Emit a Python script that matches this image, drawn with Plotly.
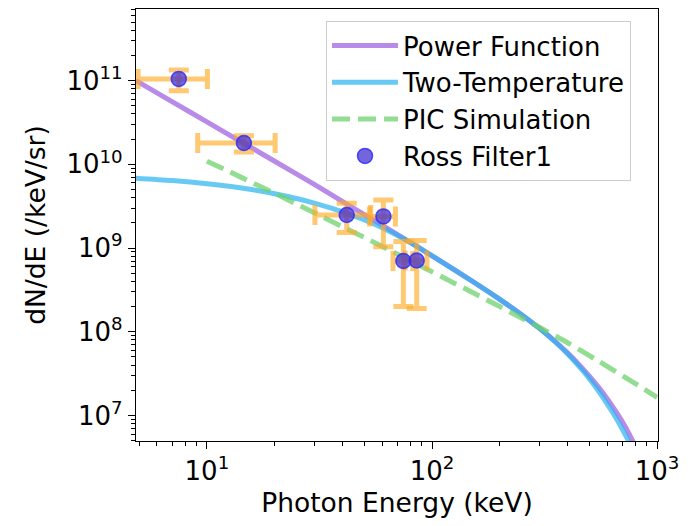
import plotly.graph_objects as go

# ---------------- data ----------------
# Ross filter measurements
ross_E = [7.5, 14.6, 41.8, 60.8, 74.6, 85.5]
ross_dNdE = [1.05e11, 1.8e10, 2.48e9, 2.39e9, 7.0e8, 7.1e8]
ross_E_err = [2.55, 5.5, 11.6, 8.0, 7.5, 9.5]
ross_dNdE_err = [2.9e10, 4.0e9, 9.5e8, 1.35e9, 5.0e8, 5.2e8]

# Power function fit
pow_E = [4.84, 7, 10, 14.5, 20, 30, 42, 60, 80, 110, 150, 200, 250, 300, 350, 400,
         450, 500, 550, 600, 650, 700, 750, 800, 850]
pow_dNdE = [1.0e11, 5.62e10, 3.22e10, 1.8e10, 1.09e10, 5.75e9, 3.33e9, 1.88e9, 1.17e9,
            6.9e8, 4.07e8, 2.44e8, 1.6e8, 1.1e8, 7.8e7, 5.6e7, 4.05e7, 2.95e7, 2.17e7,
            1.59e7, 1.16e7, 8.45e6, 6.07e6, 4.28e6, 2.98e6]

# Two-temperature fit
two_E = [4.8, 7, 10, 15, 20, 30, 42, 55, 70, 80, 110, 150, 200, 250, 300, 350, 400,
         450, 500, 550, 600, 650, 700, 750, 800]
two_dNdE = [6.85e9, 6.4e9, 5.85e9, 5.1e9, 4.45e9, 3.45e9, 2.6e9, 1.95e9, 1.42e9, 1.17e9,
            6.9e8, 4.05e8, 2.44e8, 1.6e8, 1.1e8, 7.7e7, 5.45e7, 3.85e7, 2.75e7, 1.95e7,
            1.38e7, 9.8e6, 6.9e6, 4.85e6, 3.4e6]

# PIC simulation
pic_E = [10, 12.5, 16, 20, 25, 32, 40, 50, 65, 85, 110, 150, 200, 250, 300, 400, 550,
         730, 1000]
pic_dNdE = [1.09e10, 8.25e9, 6.0e9, 4.5e9, 3.36e9, 2.43e9, 1.8e9, 1.34e9, 9.4e8, 6.5e8,
            4.57e8, 2.98e8, 2.0e8, 1.46e8, 1.13e8, 7.4e7, 4.45e7, 2.8e7, 1.65e7]

x_tick_vals = [10, 100, 1000]
x_tick_text = ["10<sup>1</sup>", "10<sup>2</sup>", "10<sup>3</sup>"]
y_tick_vals = [1e7, 1e8, 1e9, 1e10, 1e11]
y_tick_text = ["10<sup>7</sup>", "10<sup>8</sup>", "10<sup>9</sup>",
               "10<sup>10</sup>", "10<sup>11</sup>"]

x_minor = [m * 10 ** d for d in range(0, 3) for m in range(2, 10) if 4.8 <= m * 10 ** d <= 1000]
y_minor = [m * 10 ** d for d in range(6, 12) for m in range(2, 10) if 4.9e6 <= m * 10 ** d <= 7.2e11]

FONT = "DejaVu Sans"

fig = go.Figure()

fig.add_trace(go.Scatter(
    x=pow_E, y=pow_dNdE, mode="lines", name="Power Function",
    line=dict(color="rgba(160,100,225,0.75)", width=5, shape="spline", smoothing=0.8),
))
fig.add_trace(go.Scatter(
    x=two_E, y=two_dNdE, mode="lines", name="Two-Temperature",
    line=dict(color="rgba(40,180,240,0.7)", width=5, shape="spline", smoothing=0.8),
))
fig.add_trace(go.Scatter(
    x=pic_E, y=pic_dNdE, mode="lines", name="PIC Simulation",
    line=dict(color="rgba(110,210,110,0.75)", width=5, dash="18px,8px",
              shape="spline", smoothing=0.8),
))
fig.add_trace(go.Scatter(
    x=ross_E, y=ross_dNdE, mode="markers", name="Ross Filter1",
    marker=dict(size=15, color="rgba(70,50,210,0.75)",
                line=dict(color="rgba(40,40,255,0.8)", width=1.5)),
    error_x=dict(type="data", array=ross_E_err, color="rgba(255,170,40,0.65)",
                 thickness=5, width=10),
    error_y=dict(type="data", array=ross_dNdE_err, color="rgba(255,170,40,0.65)",
                 thickness=5, width=10),
))

axis_common = dict(
    showline=True, linecolor="black", linewidth=1.3, mirror=True,
    showgrid=False, zeroline=False, ticks="outside", ticklen=7, tickwidth=1.2,
    tickcolor="black", tickfont=dict(family=FONT, size=26, color="black"),
)

fig.update_xaxes(
    type="log", range=[0.685, 3.004],
    tickmode="array", tickvals=x_tick_vals, ticktext=x_tick_text,
    minor=dict(tickmode="array", tickvals=x_minor, ticks="outside", ticklen=4,
               tickwidth=1, tickcolor="black", showgrid=False),
    title=dict(text="Photon Energy (keV)", font=dict(family=FONT, size=26.5, color="black"),
               standoff=13),
    **axis_common,
)
fig.update_yaxes(
    type="log", range=[6.695, 11.856],
    tickmode="array", tickvals=y_tick_vals, ticktext=y_tick_text,
    minor=dict(tickmode="array", tickvals=y_minor, ticks="outside", ticklen=4,
               tickwidth=1, tickcolor="black", showgrid=False),
    title=dict(text="dN/dE (/keV/sr)", font=dict(family=FONT, size=26.5, color="black"),
               standoff=13),
    **axis_common,
)

# the page body adds an 8px offset, so the figure is sized/margined to compensate
fig.update_layout(
    width=682, height=510,
    margin=dict(l=128, r=32, t=0, b=71),
    paper_bgcolor="white", plot_bgcolor="white",
    font=dict(family=FONT, size=26, color="black"),
    showlegend=True,
    legend=dict(
        x=0.364, y=0.972, xanchor="left", yanchor="top",
        bgcolor="rgba(255,255,255,0.85)", bordercolor="rgba(0,0,0,0.2)", borderwidth=1,
        font=dict(family=FONT, size=26, color="black"),
        itemwidth=66, tracegroupgap=0,
    ),
)

fig.write_html("out.html")
